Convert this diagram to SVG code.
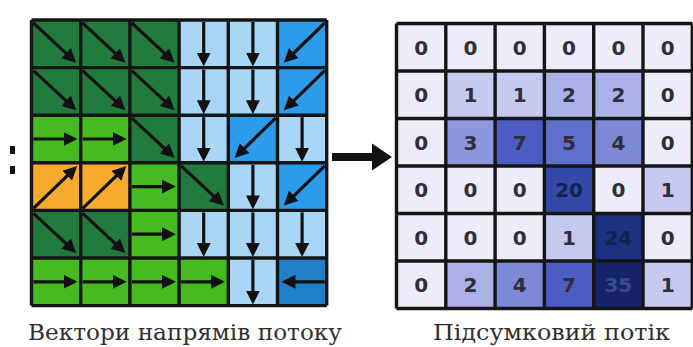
<svg xmlns="http://www.w3.org/2000/svg" width="693" height="347" viewBox="0 0 693 347">
<defs>
<marker id="ah" viewBox="0 0 14 14" markerWidth="14" markerHeight="14" refX="9" refY="7" orient="auto" markerUnits="userSpaceOnUse">
<path d="M0,0 L14,7 L0,14 z" fill="#111"/>
</marker>
<style>
.dg{fill:#217a3e}.g{fill:#45bb1f}.o{fill:#f7ab2e}.lb{fill:#aad6f6}.mb{fill:#2c9bec}.db{fill:#1f80c9}
.ar{stroke:#111;stroke-width:3.2;fill:none;marker-end:url(#ah)}
.gl{stroke:#151515;stroke-width:3.4;fill:none}
.v0{fill:#ededf9}.v1{fill:#c6caef}.v2{fill:#a9b1e6}.v3{fill:#8c97dd}.v4{fill:#7b89d6}.v5{fill:#5e70cb}.v7{fill:#4b5dc2}.v20{fill:#3448a8}.v24{fill:#1e3080}.v35{fill:#15246a}
.n{font-family:"DejaVu Sans",Verdana,sans-serif;font-weight:bold;font-size:20px;text-anchor:middle;fill:#2e2e3c}
.nd{fill:#14214f}.nl{fill:#3a4a82}
.lbl{font-family:"DejaVu Serif","Liberation Serif",serif;font-size:23px;fill:#2f2f2f}
</style>
</defs>
<rect width="693" height="347" fill="#fff"/>

<g id="colon">
<rect x="10" y="146" width="5" height="8" fill="#111"/>
<rect x="10" y="166" width="5" height="8" fill="#111"/>
</g>

<g id="flow-direction-grid">
<g id="d-0-0"><rect class="dg" x="31.5" y="20" width="49.2" height="47.6"/><line class="ar" x1="33.5" y1="23" x2="72.6" y2="59.3"/></g>
<g id="d-0-1"><rect class="dg" x="80.7" y="20" width="49.2" height="47.6"/><line class="ar" x1="82.7" y1="23" x2="121.8" y2="59.3"/></g>
<g id="d-0-2"><rect class="dg" x="129.9" y="20" width="49.2" height="47.6"/><line class="ar" x1="131.9" y1="23" x2="171" y2="59.3"/></g>
<g id="d-0-3"><rect class="lb" x="179.1" y="20" width="49.2" height="47.6"/><line class="ar" x1="203.7" y1="22" x2="203.7" y2="61.6"/></g>
<g id="d-0-4"><rect class="lb" x="228.3" y="20" width="49.2" height="47.6"/><line class="ar" x1="252.9" y1="22" x2="252.9" y2="61.6"/></g>
<g id="d-0-5"><rect class="mb" x="277.5" y="20" width="49.2" height="47.6"/><line class="ar" x1="324.7" y1="23" x2="287.4" y2="59.25"/></g>

<g id="d-1-0"><rect class="dg" x="31.5" y="67.6" width="49.2" height="47.6"/><line class="ar" x1="33.5" y1="70.6" x2="72.6" y2="106.9"/></g>
<g id="d-1-1"><rect class="dg" x="80.7" y="67.6" width="49.2" height="47.6"/><line class="ar" x1="82.7" y1="70.6" x2="121.8" y2="106.9"/></g>
<g id="d-1-2"><rect class="dg" x="129.9" y="67.6" width="49.2" height="47.6"/><line class="ar" x1="131.9" y1="70.6" x2="171" y2="106.9"/></g>
<g id="d-1-3"><rect class="lb" x="179.1" y="67.6" width="49.2" height="47.6"/><line class="ar" x1="203.7" y1="69.6" x2="203.7" y2="109.2"/></g>
<g id="d-1-4"><rect class="lb" x="228.3" y="67.6" width="49.2" height="47.6"/><line class="ar" x1="252.9" y1="69.6" x2="252.9" y2="109.2"/></g>
<g id="d-1-5"><rect class="mb" x="277.5" y="67.6" width="49.2" height="47.6"/><line class="ar" x1="324.7" y1="70.6" x2="287.4" y2="106.85"/></g>

<g id="d-2-0"><rect class="g" x="31.5" y="115.2" width="49.2" height="47.6"/><line class="ar" x1="33.5" y1="139" x2="72.5" y2="139"/></g>
<g id="d-2-1"><rect class="g" x="80.7" y="115.2" width="49.2" height="47.6"/><line class="ar" x1="82.7" y1="139" x2="121.7" y2="139"/></g>
<g id="d-2-2"><rect class="dg" x="129.9" y="115.2" width="49.2" height="47.6"/><line class="ar" x1="131.9" y1="118.2" x2="171" y2="154.5"/></g>
<g id="d-2-3"><rect class="lb" x="179.1" y="115.2" width="49.2" height="47.6"/><line class="ar" x1="203.7" y1="117.2" x2="203.7" y2="156.8"/></g>
<g id="d-2-4"><rect class="mb" x="228.3" y="115.2" width="49.2" height="47.6"/><line class="ar" x1="275.5" y1="118.2" x2="238.2" y2="154.45"/></g>
<g id="d-2-5"><rect class="lb" x="277.5" y="115.2" width="49.2" height="47.6"/><line class="ar" x1="302.1" y1="117.2" x2="302.1" y2="156.8"/></g>

<g id="d-3-0"><rect class="o" x="31.5" y="162.8" width="49.2" height="47.6"/><line class="ar" x1="33.5" y1="208.4" x2="73.6" y2="169.6"/></g>
<g id="d-3-1"><rect class="o" x="80.7" y="162.8" width="49.2" height="47.6"/><line class="ar" x1="82.7" y1="208.4" x2="122.8" y2="169.6"/></g>
<g id="d-3-2"><rect class="g" x="129.9" y="162.8" width="49.2" height="47.6"/><line class="ar" x1="131.9" y1="186.6" x2="170.9" y2="186.6"/></g>
<g id="d-3-3"><rect class="dg" x="179.1" y="162.8" width="49.2" height="47.6"/><line class="ar" x1="181.1" y1="165.8" x2="220.2" y2="202.1"/></g>
<g id="d-3-4"><rect class="lb" x="228.3" y="162.8" width="49.2" height="47.6"/><line class="ar" x1="252.9" y1="164.8" x2="252.9" y2="204.4"/></g>
<g id="d-3-5"><rect class="mb" x="277.5" y="162.8" width="49.2" height="47.6"/><line class="ar" x1="324.7" y1="165.8" x2="287.4" y2="202.05"/></g>

<g id="d-4-0"><rect class="dg" x="31.5" y="210.4" width="49.2" height="47.6"/><line class="ar" x1="33.5" y1="213.4" x2="72.6" y2="249.7"/></g>
<g id="d-4-1"><rect class="dg" x="80.7" y="210.4" width="49.2" height="47.6"/><line class="ar" x1="82.7" y1="213.4" x2="121.8" y2="249.7"/></g>
<g id="d-4-2"><rect class="g" x="129.9" y="210.4" width="49.2" height="47.6"/><line class="ar" x1="131.9" y1="234.2" x2="170.9" y2="234.2"/></g>
<g id="d-4-3"><rect class="lb" x="179.1" y="210.4" width="49.2" height="47.6"/><line class="ar" x1="203.7" y1="212.4" x2="203.7" y2="252"/></g>
<g id="d-4-4"><rect class="lb" x="228.3" y="210.4" width="49.2" height="47.6"/><line class="ar" x1="252.9" y1="212.4" x2="252.9" y2="252"/></g>
<g id="d-4-5"><rect class="lb" x="277.5" y="210.4" width="49.2" height="47.6"/><line class="ar" x1="302.1" y1="212.4" x2="302.1" y2="252"/></g>

<g id="d-5-0"><rect class="g" x="31.5" y="258" width="49.2" height="47.6"/><line class="ar" x1="33.5" y1="281.8" x2="72.5" y2="281.8"/></g>
<g id="d-5-1"><rect class="g" x="80.7" y="258" width="49.2" height="47.6"/><line class="ar" x1="82.7" y1="281.8" x2="121.7" y2="281.8"/></g>
<g id="d-5-2"><rect class="g" x="129.9" y="258" width="49.2" height="47.6"/><line class="ar" x1="131.9" y1="281.8" x2="170.9" y2="281.8"/></g>
<g id="d-5-3"><rect class="g" x="179.1" y="258" width="49.2" height="47.6"/><line class="ar" x1="181.1" y1="281.8" x2="220.1" y2="281.8"/></g>
<g id="d-5-4"><rect class="lb" x="228.3" y="258" width="49.2" height="47.6"/><line class="ar" x1="252.9" y1="260" x2="252.9" y2="299.6"/></g>
<g id="d-5-5"><rect class="db" x="277.5" y="258" width="49.2" height="47.6"/><line class="ar" x1="324.7" y1="281.8" x2="286.5" y2="281.8"/></g>

<g id="d-gridlines">
<path class="gl" d="M31.5,20V305.6M80.7,20V305.6M129.9,20V305.6M179.1,20V305.6M228.3,20V305.6M277.5,20V305.6M326.7,20V305.6M31.5,20H326.7M31.5,67.6H326.7M31.5,115.2H326.7M31.5,162.8H326.7M31.5,210.4H326.7M31.5,258H326.7M31.5,305.6H326.7"/>
</g>
<text class="lbl" x="28" y="339.5" textLength="314" lengthAdjust="spacingAndGlyphs">Вектори напрямів потоку</text>
</g>

<g id="connectors">
<path d="M332,153 L372,153 L372,143.5 L392,157 L372,170.5 L372,161 L332,161 z" fill="#111"/>
</g>

<g id="flow-accumulation-grid">
<g id="a-0-0"><rect class="v0" x="396.5" y="23.5" width="49.3" height="47.5"/><text class="n" x="421.15" y="54.5">0</text></g>
<g id="a-0-1"><rect class="v0" x="445.8" y="23.5" width="49.3" height="47.5"/><text class="n" x="470.45" y="54.5">0</text></g>
<g id="a-0-2"><rect class="v0" x="495.1" y="23.5" width="49.3" height="47.5"/><text class="n" x="519.75" y="54.5">0</text></g>
<g id="a-0-3"><rect class="v0" x="544.4" y="23.5" width="49.3" height="47.5"/><text class="n" x="569.05" y="54.5">0</text></g>
<g id="a-0-4"><rect class="v0" x="593.7" y="23.5" width="49.3" height="47.5"/><text class="n" x="618.35" y="54.5">0</text></g>
<g id="a-0-5"><rect class="v0" x="643" y="23.5" width="49.3" height="47.5"/><text class="n" x="667.65" y="54.5">0</text></g>

<g id="a-1-0"><rect class="v0" x="396.5" y="71" width="49.3" height="47.5"/><text class="n" x="421.15" y="102">0</text></g>
<g id="a-1-1"><rect class="v1" x="445.8" y="71" width="49.3" height="47.5"/><text class="n" x="470.45" y="102">1</text></g>
<g id="a-1-2"><rect class="v1" x="495.1" y="71" width="49.3" height="47.5"/><text class="n" x="519.75" y="102">1</text></g>
<g id="a-1-3"><rect class="v2" x="544.4" y="71" width="49.3" height="47.5"/><text class="n" x="569.05" y="102">2</text></g>
<g id="a-1-4"><rect class="v2" x="593.7" y="71" width="49.3" height="47.5"/><text class="n" x="618.35" y="102">2</text></g>
<g id="a-1-5"><rect class="v0" x="643" y="71" width="49.3" height="47.5"/><text class="n" x="667.65" y="102">0</text></g>

<g id="a-2-0"><rect class="v0" x="396.5" y="118.5" width="49.3" height="47.5"/><text class="n" x="421.15" y="149.5">0</text></g>
<g id="a-2-1"><rect class="v3" x="445.8" y="118.5" width="49.3" height="47.5"/><text class="n" x="470.45" y="149.5">3</text></g>
<g id="a-2-2"><rect class="v7" x="495.1" y="118.5" width="49.3" height="47.5"/><text class="n" x="519.75" y="149.5">7</text></g>
<g id="a-2-3"><rect class="v5" x="544.4" y="118.5" width="49.3" height="47.5"/><text class="n" x="569.05" y="149.5">5</text></g>
<g id="a-2-4"><rect class="v4" x="593.7" y="118.5" width="49.3" height="47.5"/><text class="n" x="618.35" y="149.5">4</text></g>
<g id="a-2-5"><rect class="v0" x="643" y="118.5" width="49.3" height="47.5"/><text class="n" x="667.65" y="149.5">0</text></g>

<g id="a-3-0"><rect class="v0" x="396.5" y="166" width="49.3" height="47.5"/><text class="n" x="421.15" y="197">0</text></g>
<g id="a-3-1"><rect class="v0" x="445.8" y="166" width="49.3" height="47.5"/><text class="n" x="470.45" y="197">0</text></g>
<g id="a-3-2"><rect class="v0" x="495.1" y="166" width="49.3" height="47.5"/><text class="n" x="519.75" y="197">0</text></g>
<g id="a-3-3"><rect class="v20" x="544.4" y="166" width="49.3" height="47.5"/><text class="n nd" x="569.05" y="197">20</text></g>
<g id="a-3-4"><rect class="v0" x="593.7" y="166" width="49.3" height="47.5"/><text class="n" x="618.35" y="197">0</text></g>
<g id="a-3-5"><rect class="v1" x="643" y="166" width="49.3" height="47.5"/><text class="n" x="667.65" y="197">1</text></g>

<g id="a-4-0"><rect class="v0" x="396.5" y="213.5" width="49.3" height="47.5"/><text class="n" x="421.15" y="244.5">0</text></g>
<g id="a-4-1"><rect class="v0" x="445.8" y="213.5" width="49.3" height="47.5"/><text class="n" x="470.45" y="244.5">0</text></g>
<g id="a-4-2"><rect class="v0" x="495.1" y="213.5" width="49.3" height="47.5"/><text class="n" x="519.75" y="244.5">0</text></g>
<g id="a-4-3"><rect class="v1" x="544.4" y="213.5" width="49.3" height="47.5"/><text class="n" x="569.05" y="244.5">1</text></g>
<g id="a-4-4"><rect class="v24" x="593.7" y="213.5" width="49.3" height="47.5"/><text class="n nd" x="618.35" y="244.5">24</text></g>
<g id="a-4-5"><rect class="v0" x="643" y="213.5" width="49.3" height="47.5"/><text class="n" x="667.65" y="244.5">0</text></g>

<g id="a-5-0"><rect class="v0" x="396.5" y="261" width="49.3" height="47.5"/><text class="n" x="421.15" y="292">0</text></g>
<g id="a-5-1"><rect class="v2" x="445.8" y="261" width="49.3" height="47.5"/><text class="n" x="470.45" y="292">2</text></g>
<g id="a-5-2"><rect class="v4" x="495.1" y="261" width="49.3" height="47.5"/><text class="n" x="519.75" y="292">4</text></g>
<g id="a-5-3"><rect class="v7" x="544.4" y="261" width="49.3" height="47.5"/><text class="n" x="569.05" y="292">7</text></g>
<g id="a-5-4"><rect class="v35" x="593.7" y="261" width="49.3" height="47.5"/><text class="n nl" x="618.35" y="292">35</text></g>
<g id="a-5-5"><rect class="v1" x="643" y="261" width="49.3" height="47.5"/><text class="n" x="667.65" y="292">1</text></g>

<g id="a-gridlines">
<path class="gl" d="M396.5,23.5V308.5M445.8,23.5V308.5M495.1,23.5V308.5M544.4,23.5V308.5M593.7,23.5V308.5M643,23.5V308.5M692.3,23.5V308.5M396.5,23.5H692.3M396.5,71H692.3M396.5,118.5H692.3M396.5,166H692.3M396.5,213.5H692.3M396.5,261H692.3M396.5,308.5H692.3"/>
</g>
<text class="lbl" x="433" y="339.5" textLength="237" lengthAdjust="spacingAndGlyphs">Підсумковий потік</text>
</g>
</svg>
